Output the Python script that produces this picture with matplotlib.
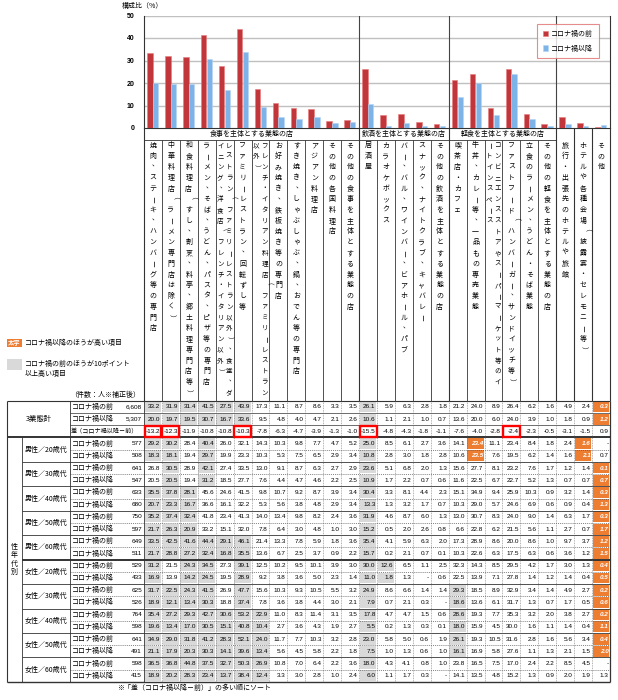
import matplotlib.pyplot as plt
import numpy as np
from matplotlib.patches import Rectangle

plt.rcParams['font.family'] = ['Noto Sans CJK JP', 'DejaVu Sans']

nan = np.nan

# column headers (26 business types)
categories = [
    '焼肉、ステーキ、ハンバーグ等の専門店',
    '中華料理店（ラーメン専門店は除く）',
    '和食料理店（すし、割烹、料亭、郷土料理専門店等）',
    'ラーメン、そば、うどん、パスタ、ピザ等の専門店',
    'レストラン（ファミリーレストラン以外）、食堂、ダイニング、洋食店（フレンチ・イタリアン以外）',
    'ファミリーレストラン、回転ずし等',
    'フレンチ・イタリアン料理店（ファミリーレストラン以外）',
    'お好み焼き、鉄板焼き等の専門店',
    'すき焼き、しゃぶしゃぶ、鍋、おでん等の専門店',
    'アジアン料理店',
    'その他の各国料理店',
    'その他の食事を主体とする業態の店',
    '居酒屋',
    'カラオケボックス',
    'バー、バル、ワインバー、ビアホール、パブ',
    'スナック、ナイトクラブ、キャバレー',
    'その他の飲酒を主体とする業態の店',
    '喫茶店・カフェ',
    '牛丼、カレー等、一品もの専売業態',
    'コンビニエンスストアやスーパーマーケット等のイートインスペース',
    'ファストフード（ハンバーガー、サンドイッチ等）',
    '立食のラーメン、うどん・そば業態',
    'その他の軽食を主体とする業態の店',
    '旅行・出張先のホテルや旅館',
    'ホテルや各種会場（披露宴・セレモニー等）',
    'その他',
]
group_names = ['食事を主体とする業態の店', '飲酒を主体とする業態の店', '軽食を主体とする業態の店']
group_sizes = [12, 5, 6]

# 3業態計
total_n = [6608, 5307]
total_before = [33.2, 31.9, 31.4, 41.5, 27.5, 43.9, 17.3, 11.1, 8.7, 8.6, 3.3, 3.5, 26.1, 5.9, 6.3, 2.8, 1.8, 21.2, 24.0, 8.9, 26.4, 6.2, 1.6, 4.9, 2.4, 0.3]
total_after = [20.0, 19.7, 19.5, 30.7, 16.7, 33.6, 9.5, 4.8, 4.0, 4.7, 2.1, 2.6, 10.6, 1.1, 2.1, 1.0, 0.7, 13.6, 20.0, 6.0, 24.0, 3.9, 1.0, 1.8, 0.9, 1.2]
total_diff = [-13.2, -12.3, -11.9, -10.8, -10.8, -10.3, -7.8, -6.3, -4.7, -3.9, -1.3, -1.0, -15.5, -4.8, -4.3, -1.8, -1.1, -7.6, -4.0, -2.8, -2.4, -2.3, -0.5, -3.1, -1.5, 0.9]
boxed_diff = [0, 1, 5, 12, 20]

# 性年代別
seg_labels = ['男性／20歳代', '男性／30歳代', '男性／40歳代', '男性／50歳代', '男性／60歳代',
              '女性／20歳代', '女性／30歳代', '女性／40歳代', '女性／50歳代', '女性／60歳代']
seg_n_before = [577, 641, 633, 750, 649, 529, 625, 764, 641, 598]
seg_n_after = [508, 547, 680, 597, 511, 433, 526, 598, 491, 415]

m20_before = [29.2, 30.2, 28.4, 40.4, 26.0, 32.1, 14.3, 10.3, 9.8, 7.7, 4.7, 5.2, 25.0, 8.5, 6.1, 2.7, 3.6, 14.1, 23.4, 11.1, 23.4, 8.4, 1.8, 2.4, 1.6, nan]
m20_after = [18.3, 18.1, 19.4, 29.7, 19.9, 23.3, 10.3, 5.3, 7.5, 6.5, 2.9, 3.4, 10.8, 2.8, 3.0, 1.8, 2.8, 10.6, 23.5, 7.6, 19.5, 6.2, 1.4, 1.6, 2.1, 0.7]
m30_before = [26.8, 30.5, 28.9, 42.1, 27.4, 33.5, 13.0, 9.1, 8.7, 6.3, 2.7, 2.9, 23.6, 5.1, 6.8, 2.0, 1.3, 15.6, 27.7, 8.1, 23.2, 7.6, 1.7, 1.2, 1.4, 0.1]
m30_after = [20.5, 20.5, 19.4, 31.2, 18.5, 27.7, 7.6, 4.4, 4.7, 4.6, 2.2, 2.5, 10.9, 1.7, 2.2, 0.7, 0.6, 11.6, 22.5, 6.7, 22.7, 5.2, 1.3, 0.7, 0.7, 0.7]
m40_before = [35.5, 37.8, 28.1, 45.6, 24.6, 41.5, 9.8, 10.7, 9.2, 8.7, 3.9, 3.4, 30.4, 3.3, 8.1, 4.4, 2.3, 15.1, 34.9, 9.4, 25.9, 10.3, 0.9, 3.2, 1.4, 0.3]
m40_after = [20.7, 23.3, 16.7, 36.6, 16.1, 32.2, 5.3, 5.6, 3.8, 4.8, 2.9, 3.4, 13.3, 1.3, 3.2, 1.7, 0.7, 10.3, 29.0, 5.7, 24.6, 6.9, 0.6, 0.9, 0.4, 1.3]
m50_before = [35.2, 37.4, 32.4, 41.8, 23.4, 41.3, 14.0, 13.4, 9.8, 8.2, 2.4, 3.6, 31.9, 4.6, 8.7, 6.0, 1.3, 13.0, 30.7, 8.3, 24.0, 9.0, 1.4, 6.3, 1.7, 0.3]
m50_after = [21.7, 26.3, 20.9, 33.2, 15.1, 32.0, 7.8, 6.4, 3.0, 4.8, 1.0, 3.0, 15.2, 0.5, 2.0, 2.6, 0.8, 6.6, 22.8, 6.2, 21.5, 5.6, 1.1, 2.7, 0.7, 1.7]
m60_before = [33.5, 42.5, 41.6, 44.4, 29.1, 46.1, 21.4, 13.3, 7.8, 5.9, 1.8, 3.6, 35.4, 4.1, 5.9, 6.3, 2.0, 17.3, 28.9, 8.6, 20.0, 8.6, 1.0, 9.7, 3.7, 1.2]
m60_after = [21.7, 28.8, 27.2, 32.4, 16.8, 35.5, 13.6, 6.7, 2.5, 3.7, 0.9, 2.2, 15.7, 0.2, 2.1, 0.7, 0.1, 10.3, 22.6, 6.3, 17.5, 6.3, 0.6, 3.6, 1.2, 1.5]
w20_before = [31.2, 21.5, 24.3, 34.5, 27.3, 39.1, 12.5, 10.2, 9.5, 10.1, 3.9, 3.0, 30.0, 12.6, 6.5, 1.1, 2.5, 32.3, 14.3, 8.5, 29.5, 4.2, 1.7, 3.0, 1.3, 0.4]
w20_after = [16.9, 13.9, 14.2, 24.5, 19.5, 28.9, 9.2, 3.8, 3.6, 5.0, 2.3, 1.4, 11.0, 1.8, 1.3, nan, 0.6, 22.5, 13.9, 7.1, 27.8, 1.4, 1.2, 1.4, 0.4, 0.5]
w30_before = [31.7, 22.5, 24.3, 41.5, 26.9, 47.7, 15.6, 10.3, 9.3, 10.5, 5.5, 3.2, 24.9, 8.6, 6.6, 1.4, 1.4, 29.3, 18.5, 8.9, 32.9, 3.4, 1.4, 4.9, 2.7, 0.2]
w30_after = [18.9, 12.1, 13.4, 30.3, 18.8, 37.4, 7.8, 3.6, 3.8, 4.4, 3.0, 2.1, 7.9, 0.7, 2.1, 0.3, nan, 18.6, 13.6, 6.1, 31.7, 1.3, 0.7, 1.7, 0.5, 0.6]
w40_before = [35.4, 27.2, 29.3, 42.7, 30.6, 53.2, 22.9, 11.0, 8.3, 11.4, 3.1, 3.5, 17.8, 4.7, 4.7, 1.5, 0.6, 28.6, 19.3, 7.7, 35.3, 3.2, 2.0, 3.8, 2.7, 0.2]
w40_after = [19.6, 13.4, 17.0, 30.5, 15.1, 40.8, 10.4, 2.7, 3.6, 4.3, 1.9, 2.7, 5.5, 0.2, 1.3, 0.3, 0.1, 18.0, 15.9, 4.5, 30.0, 1.6, 1.1, 1.4, 0.4, 1.1]
w50_before = [34.9, 29.0, 31.8, 41.2, 28.3, 52.1, 24.0, 11.7, 7.7, 10.3, 3.2, 2.8, 23.0, 5.8, 5.0, 0.6, 1.9, 26.1, 19.3, 10.5, 31.6, 2.8, 1.6, 5.6, 3.4, 0.4]
w50_after = [21.1, 17.9, 20.3, 30.3, 14.1, 39.6, 13.4, 5.6, 4.5, 5.8, 2.2, 1.8, 7.5, 1.0, 1.3, 0.6, 1.0, 16.1, 16.9, 5.8, 27.6, 1.1, 1.3, 2.1, 1.5, 2.0]
w60_before = [36.5, 36.8, 44.8, 37.5, 32.7, 50.3, 26.9, 10.8, 7.0, 6.4, 2.2, 3.6, 18.0, 4.3, 4.1, 0.8, 1.0, 23.8, 16.5, 7.5, 17.0, 2.4, 2.2, 8.5, 4.5, nan]
w60_after = [18.9, 20.2, 28.3, 23.4, 13.7, 38.4, 12.4, 3.3, 3.0, 2.8, 1.0, 2.4, 6.0, 1.1, 1.7, 0.3, nan, 14.1, 13.5, 4.8, 15.2, 1.3, 0.9, 2.0, 1.9, 1.3]

seg_before = [m20_before, m30_before, m40_before, m50_before, m60_before,
              w20_before, w30_before, w40_before, w50_before, w60_before]
seg_after = [m20_after, m30_after, m40_after, m50_after, m60_after,
             w20_after, w30_after, w40_after, w50_after, w60_after]

RED = '#C0363A'
BLUE = '#7DB3E6'
ORANGE = '#ED7D31'
GRAY = '#D9D9D9'
NUMFONT = 'Liberation Sans'

# layout in pixels
W, H = 618, 700
X0 = 144.0
NC = len(categories)
CW = (610.0 - X0) / NC
X_END = X0 + NC * CW
CHART_TOP, CHART_BOT = 15.5, 128.0
GROUP_BOT = 140.0
T0 = 400.8
RH = 12.22
NROW = 3 + 2 * len(seg_labels)
TB = T0 + NROW * RH

fig = plt.figure(figsize=(W / 100, H / 100), dpi=100)
base = fig.add_axes([0, 0, 1, 1])
base.set_xlim(0, W)
base.set_ylim(H, 0)
base.axis('off')


def cx(i):
    return X0 + (i + 0.5) * CW


def hline(y, x1, x2, lw=0.6, color='#333333', ls='-'):
    base.plot([x1, x2], [y, y], color=color, lw=lw, ls=ls, solid_capstyle='butt')


def vline(x, y1, y2, lw=0.6, color='#333333', ls='-'):
    base.plot([x, x], [y1, y2], color=color, lw=lw, ls=ls, solid_capstyle='butt')


# ---- bar chart ----
ax = fig.add_axes([X0 / W, 1 - CHART_BOT / H, (X_END - X0) / W, (CHART_BOT - CHART_TOP) / H])
xs = np.arange(NC)
ax.bar(xs - 0.17, total_before, width=0.31, color=RED, edgecolor='#E87A7A', lw=0.4,
       label='コロナ禍の前', zorder=3)
ax.bar(xs + 0.15, total_after, width=0.30, color=BLUE, edgecolor='#B5D4F2', lw=0.4,
       label='コロナ禍以降', zorder=3)
ax.set_xlim(-0.5, NC - 0.5)
ax.set_ylim(0, 50)
ax.set_yticks([0, 10, 20, 30, 40, 50])
ax.set_xticks([])
for t in ax.get_yticklabels():
    t.set_fontfamily(NUMFONT)
    t.set_fontweight('bold')
ax.tick_params(axis='y', length=0, pad=7, labelsize=5)
for yv in [10, 20, 30, 40, 50]:
    ax.axhline(yv, color='#C0C0C0', lw=1.0, zorder=1)
pos = 0
for g in group_sizes:
    pos += g
    ax.axvline(pos - 0.5, color='#444444', lw=0.8, zorder=2)
ax.spines['top'].set_visible(False)
for s in ['left', 'right', 'bottom']:
    ax.spines[s].set_linewidth(0.8)
    ax.spines[s].set_color('#333333')
leg = ax.legend(loc='upper right', bbox_to_anchor=((602 - X0) / (X_END - X0), 0.955),
                fontsize=5, frameon=True, fancybox=False, edgecolor='#E07070',
                handlelength=0.8, handleheight=0.8, handletextpad=0.4,
                labelspacing=1.0, borderpad=0.8)
leg.get_frame().set_linewidth(0.8)
base.text(122, 6, '構成比（%）', fontsize=5, ha='left', va='center')

# ---- header: group row and vertical column labels ----
hline(GROUP_BOT, X0, X0 + sum(group_sizes) * CW)
pos = 0
for name, g in zip(group_names, group_sizes):
    base.text(X0 + (pos + g / 2) * CW, 134.2, name, fontsize=5, ha='center', va='center')
    pos += g
boundaries = np.cumsum(group_sizes)
for i in range(NC + 1):
    x = X0 + i * CW
    if i in (0, NC) or i in boundaries or i > boundaries[-1]:
        vline(x, CHART_BOT, T0, lw=0.8)
    else:
        vline(x, GROUP_BOT, T0, lw=0.6)

# vertical writing: one character per line, long labels wrap to a second column on the left
ROTATE = 'ー（）－'
split_at = {4: 24, 6: 24, 19: 23}
for i, name in enumerate(categories):
    n = split_at.get(i, 24)
    parts = [name[k:k + n] for k in range(0, len(name), n)]
    if len(parts) == 1:
        offs = [0.0]
        fs = 5
    else:
        offs = [4.3, -4.3]
        fs = 4.7
    for part, off in zip(parts, offs):
        for k, ch in enumerate(part):
            x = cx(i) + off
            y = 145.5 + k * 10.75
            rot = 0
            if ch in ROTATE:
                rot = -90
            if ch == '、':
                x += 2.6
                y -= 3.0
            base.text(x, y, ch, fontsize=fs, ha='center', va='center', rotation=rot)

# ---- notes at left ----
base.add_patch(Rectangle((7, 339), 15, 7.5, color=ORANGE, lw=0))
base.text(14.5, 342.8, '太字', fontsize=4.5, color='white', fontweight='bold',
          style='italic', ha='center', va='center')
base.text(25, 343, 'コロナ禍以降のほうが高い項目', fontsize=5, ha='left', va='center')
base.add_patch(Rectangle((7, 359), 15, 11, color=GRAY, lw=0))
base.text(25, 364, 'コロナ禍の前のほうが10ポイント', fontsize=5, ha='left', va='center')
base.text(25, 373.5, '以上高い項目', fontsize=5, ha='left', va='center')
base.text(140, 395, '（件数：人※補正後）', fontsize=5, ha='right', va='center')


# ---- table ----
def fmt(v):
    if np.isnan(v):
        return '-'
    return f'{v:.1f}'


def row_y(r):
    return T0 + r * RH


def draw_values(r, vals, before=None, after=None):
    y = row_y(r)
    for i, v in enumerate(vals):
        x = X0 + i * CW
        face = None
        if before is not None:
            b, a = before[i], after[i]
            if not np.isnan(b) and not np.isnan(a):
                if a > b:
                    face = ORANGE
                elif b - a >= 10:
                    face = GRAY
        if face:
            base.add_patch(Rectangle((x + 0.6, y + 0.7), CW - 1.2, RH - 1.4, color=face, lw=0, zorder=1))
        if face == ORANGE:
            base.text(x + CW - 1.6, y + RH / 2, fmt(v), fontsize=4.6, family=NUMFONT,
                      color='white', fontweight='bold', style='italic', ha='right', va='center', zorder=3)
        else:
            base.text(x + CW - 1.6, y + RH / 2, fmt(v), fontsize=4.6, family=NUMFONT,
                      ha='right', va='center', zorder=3)


# 3業態計
draw_values(0, total_before, total_before, total_after)
draw_values(1, total_after, total_before, total_after)
draw_values(2, total_diff)
base.text(38.5, row_y(1.5), '3業態計', fontsize=5.3, ha='center', va='center')
base.text(72, row_y(0.5), 'コロナ禍の前', fontsize=5, ha='left', va='center')
base.text(72, row_y(1.5), 'コロナ禍以降', fontsize=5, ha='left', va='center')
base.text(71, row_y(2.5), '差（コロナ禍以降－前）', fontsize=4.4, ha='left', va='center')
base.text(142, row_y(0.5), f'{total_n[0]:,}', fontsize=4.6, family=NUMFONT, ha='right', va='center')
base.text(142, row_y(1.5), f'{total_n[1]:,}', fontsize=4.6, family=NUMFONT, ha='right', va='center')
for i in boxed_diff:
    base.add_patch(Rectangle((X0 + i * CW + 0.5, row_y(2) + 0.6), CW - 1.0, RH - 1.2,
                             fill=False, edgecolor='#FF0000', lw=1.7, zorder=4))

# 性年代別
for k, lab in enumerate(seg_labels):
    r = 3 + 2 * k
    draw_values(r, seg_before[k], seg_before[k], seg_after[k])
    draw_values(r + 1, seg_after[k], seg_before[k], seg_after[k])
    base.text(25, row_y(r + 1), lab, fontsize=5, ha='left', va='center')
    base.text(72, row_y(r + 0.5), 'コロナ禍の前', fontsize=5, ha='left', va='center')
    base.text(72, row_y(r + 1.5), 'コロナ禍以降', fontsize=5, ha='left', va='center')
    base.text(142, row_y(r + 0.5), f'{seg_n_before[k]:,}', fontsize=4.6, family=NUMFONT, ha='right', va='center')
    base.text(142, row_y(r + 1.5), f'{seg_n_after[k]:,}', fontsize=4.6, family=NUMFONT, ha='right', va='center')
mid = (row_y(3) + TB) / 2
for k, ch in enumerate('性年代別'):
    base.text(14.5, mid - 12.75 + k * 8.5, ch, fontsize=5, ha='center', va='center')

# table lines
hline(T0, 7, X_END, lw=0.8)
hline(row_y(1), 70, X_END, lw=0.5)
hline(row_y(2), 70, X_END, lw=0.5)
hline(row_y(3), 7, X_END, lw=1.4)
for k in range(len(seg_labels)):
    r = 3 + 2 * k
    hline(row_y(r + 1), 70, X_END, lw=0.5, color='#555555', ls=(0, (1.5, 1.5)))
    if k > 0:
        hline(row_y(r), 22, X_END, lw=1.4 if k == 5 else 0.6)
hline(TB, 7, X_END, lw=1.0)
vline(7, T0, TB, lw=0.8)
vline(22, row_y(3), TB, lw=0.6)
vline(70, T0, TB, lw=0.6)
vline(X0, T0, TB, lw=0.6)
vline(X_END, T0, TB, lw=0.9)
for i in range(1, NC):
    vline(X0 + i * CW, T0, TB, lw=0.4, color='#666666', ls=(0, (1.5, 1.5)))

base.text(194, 688, '※「差（コロナ禍以降－前）」の多い順にソート', fontsize=5, ha='center', va='center')

fig.savefig('out.png', dpi=100)
